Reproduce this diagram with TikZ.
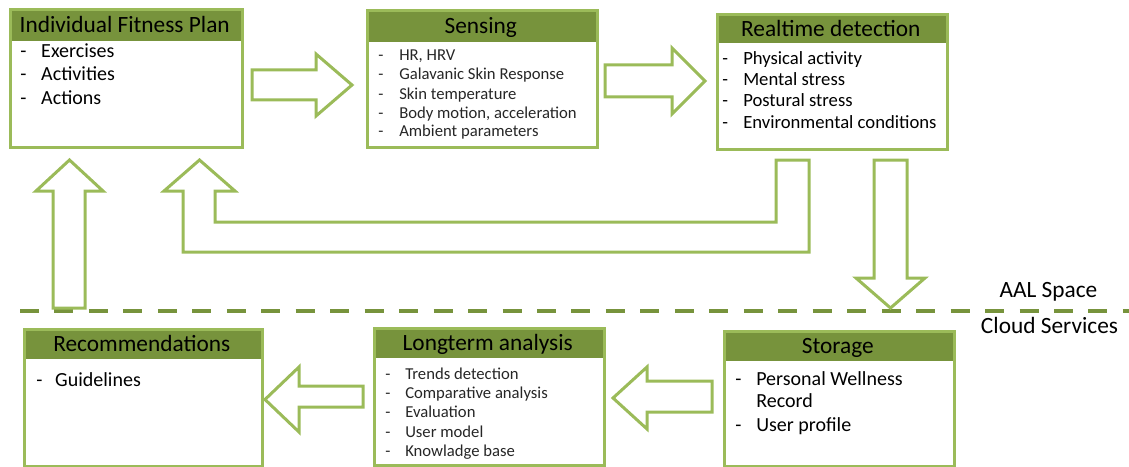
\documentclass[tikz,border=0pt]{standalone}
\usepackage{fontspec}
\setmainfont{Carlito}
\usepackage{tikz}
\definecolor{lightgr}{HTML}{9BBB59}
\definecolor{darkgr}{HTML}{77933C}
\newcommand{\itm}[2][15.75pt]{\makebox[#1][l]{-}#2}

\begin{document}
\begin{tikzpicture}[x=0.75pt,y=-0.75pt,
		box/.style={draw=lightgr, line width=2.25pt, anchor=north west, inner sep=0},
		header/.style={fill=darkgr, anchor=north west, inner sep=0, text height=11.3pt, text depth=0pt, font=\fontsize{17.5}{21}\selectfont},
		big item/.style={anchor=base west, inner sep=0, font=\fontsize{15}{18}\selectfont},
		mid item/.style={anchor=base west, inner sep=0, font=\fontsize{14}{17}\selectfont},
		small item/.style={anchor=base west, inner sep=0, text=black!85, font=\fontsize{12.5}{15}\selectfont},
		block arrow/.style={draw=lightgr, fill=white, line width=2.25pt, line join=miter},
		zone text/.style={anchor=base, inner sep=0, font=\fontsize{17.5}{21}\selectfont}]
	\useasboundingbox (0,0) rectangle (1129,467);
	
	% Headers
	\node[header, minimum width=174pt, minimum height=24.375pt] (fph) at (8.5,8.5) {Individual Fitness Plan};
	\node[header, minimum width=172.5pt, minimum height=24.375pt] (sensh) at (365.5,9.5) {Sensing};
	\node[header, minimum width=172.5pt, minimum height=22.125pt] (rth) at (715.5,13.5) {Realtime detection};
	\node[header, minimum width=178.5pt, minimum height=23.625pt] (rech) at (22.5,327.5) {Recommendations};
	\node[header, minimum width=172.5pt, minimum height=23.625pt] (lth) at (372.5,326.5) {Longterm analysis};
	\node[header, minimum width=172.5pt, minimum height=23.625pt] (sth) at (722.5,329.5) {Storage};
	
	% Boxes
	\node[box, minimum width=174pt, minimum height=103.5pt] (fp) at (8.5,8.5) {};
	\node[box, minimum width=172.5pt, minimum height=102.75pt] (sens) at (365.5,9.5) {};
	\node[box, minimum width=172.5pt, minimum height=101.25pt] (rt) at (715.5,13.5) {};
	\node[box, minimum width=178.5pt, minimum height=102.75pt] (rec) at (22.5,327.5) {};
	\node[box, minimum width=172.5pt, minimum height=102.75pt] (lt) at (372.5,326.5) {};
	\node[box, minimum width=172.5pt, minimum height=101.25pt] (st) at (722.5,329.5) {};
	
	% Items
	\node[big item] (fp1) at (20,58) {\itm{Exercises}};
	\node[big item] (fp2) at (20,81) {\itm{Activities}};
	\node[big item] (fp3) at (20,104) {\itm{Actions}};
	
	\node[small item] (sens1) at (378,61) {\itm{HR, HRV}};
	\node[small item] (sens2) at (378,80) {\itm{Galavanic Skin Response}};
	\node[small item] (sens3) at (378,99) {\itm{Skin temperature}};
	\node[small item] (sens4) at (378,118) {\itm{Body motion, acceleration}};
	\node[small item] (sens5) at (378,137) {\itm{Ambient parameters}};
	
	\node[mid item] (rt1) at (722,65) {\itm{Physical activity}};
	\node[mid item] (rt2) at (722,86) {\itm{Mental stress}};
	\node[mid item] (rt3) at (722,107) {\itm{Postural stress}};
	\node[mid item] (rt4) at (722,128) {\itm{Environmental conditions}};
	
	\node[big item] (rec1) at (36,386) {\itm[14.25pt]{Guidelines}};
	
	\node[small item] (lt1) at (385,379) {\itm[15pt]{Trends detection}};
	\node[small item] (lt2) at (385,398) {\itm[15pt]{Comparative analysis}};
	\node[small item] (lt3) at (385,417) {\itm[15pt]{Evaluation}};
	\node[small item] (lt4) at (385,437) {\itm[15pt]{User model}};
	\node[small item] (lt5) at (385,456) {\itm[15pt]{Knowladge base}};
	
	\node[big item] (st1) at (735,385) {\itm{Personal Wellness}};
	\node[big item] (st2) at (756,407) {Record};
	\node[big item] (st3) at (735,431) {\itm{User profile}};
	
	% Zones
	\draw[darkgr, line width=3pt, dash pattern=on 14.25pt off 11.6pt] (20,311) -- (1129,311);
	\node[zone text] (aal) at (1048.5,297) {AAL Space};
	\node[zone text] (cloud) at (1049.5,333) {Cloud Services};
	
	% Block arrows
	\draw[block arrow] (252,70) -- (316,70) -- (316,54) -- (352,85) -- (316,116) -- (316,100) -- (252,100) -- cycle;
	\draw[block arrow] (605,65) -- (672,65) -- (672,48) -- (705,81) -- (672,114) -- (672,97) -- (605,97) -- cycle;
	\draw[block arrow] (874,160) -- (907,160) -- (907,278) -- (925,278) -- (890.5,308) -- (856,278) -- (874,278) -- cycle;
	\draw[block arrow] (53,308) -- (53,191) -- (36,191) -- (69.5,160) -- (103,191) -- (85,191) -- (85,308) -- cycle;
	\draw[block arrow] (183,252) -- (183,191) -- (164,191) -- (199.5,160) -- (235,191) -- (215,191) -- (215,222) -- (776,222) -- (776,160) -- (809,160) -- (809,252) -- cycle;
	\draw[block arrow] (363,386) -- (299,386) -- (299,367) -- (265,399.5) -- (299,432) -- (299,407) -- (363,407) -- cycle;
	\draw[block arrow] (712,381) -- (647,381) -- (647,367) -- (613,398) -- (647,429) -- (647,412) -- (712,412) -- cycle;
	
\end{tikzpicture}
\end{document}
